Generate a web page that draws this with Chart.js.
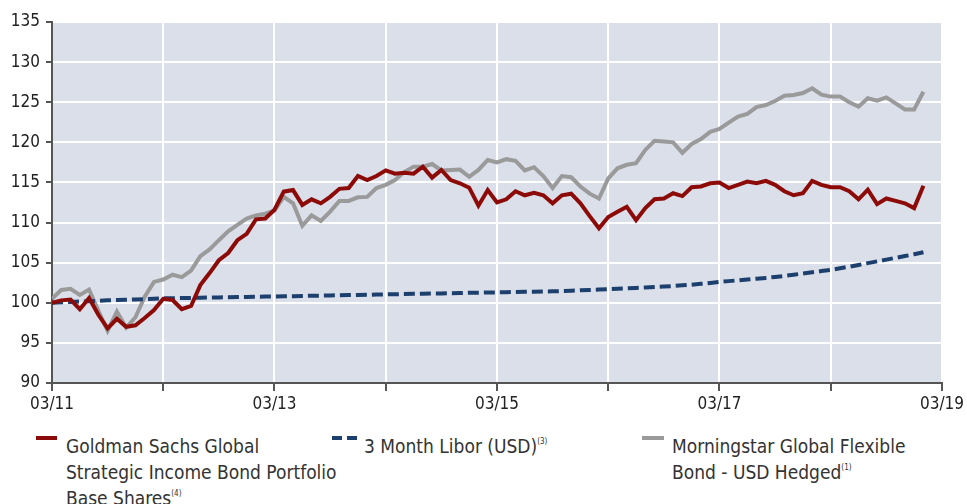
<!DOCTYPE html>
<html>
<head>
<meta charset="utf-8">
<script src="https://cdn.jsdelivr.net/npm/chart.js@4.4.1/dist/chart.umd.min.js"></script>
<style>
    body { margin: 0; background: #ffffff; font-family: 'Liberation Sans Narrow', 'DejaVu Sans Condensed', sans-serif; color: #333333; }
    #wrap { position: relative; width: 967px; height: 504px; overflow: hidden; }
    #box { position: absolute; left: 0; top: 0; width: 967px; height: 420px; }
    .item { position: absolute; top: 433px; font-size: 19px; line-height: 26px; }
    .sw { position: absolute; top: 3px; height: 4px; }
    sup { font-size: 8px; vertical-align: 9px; line-height: 0; }
</style>
</head>
<body>
<div id="wrap">
    <div id="box"><canvas id="chart"></canvas></div>
    <div class="item" style="left:36px;">
        <div class="sw" style="left:0; width:21px; background:#8c0b08;"></div>
        <div style="margin-left:30px;">Goldman Sachs Global<br>Strategic Income Bond Portfolio<br>Base Shares<sup>(4)</sup></div>
    </div>
    <div class="item" style="left:332px;">
        <div class="sw" style="left:0; width:10px; background:#1c3f6e;"></div>
        <div class="sw" style="left:15px; width:10px; background:#1c3f6e;"></div>
        <div style="margin-left:32px;">3 Month Libor (USD)<sup>(3)</sup></div>
    </div>
    <div class="item" style="left:642px;">
        <div class="sw" style="left:0; width:22px; background:#9a9a9a;"></div>
        <div style="margin-left:30px;">Morningstar Global Flexible<br>Bond - USD Hedged<sup>(1)</sup></div>
    </div>
</div>
<script>
// VARIABLE DECLARATIONS:
// one value per month, 03/11 .. 01/19
var yearLabels = ['03/11', '03/12', '03/13', '03/14', '03/15', '03/16', '03/17', '03/18', '03/19'];

var gsValues = [
    100.0, 100.3, 100.4, 99.2, 100.6, 98.5, 96.8, 98.0, 97.0, 97.2, 98.1, 99.1,
    100.5, 100.35, 99.2, 99.6, 102.2, 103.7, 105.3, 106.2, 107.8, 108.6, 110.4, 110.5,
    111.6, 113.85, 114.05, 112.2, 112.9, 112.4, 113.2, 114.2, 114.3, 115.8, 115.3, 115.8,
    116.5, 116.1, 116.2, 116.1, 116.96, 115.6, 116.56, 115.3, 114.9, 114.35, 112.1, 114.05,
    112.5, 112.9, 113.9, 113.4, 113.7, 113.4, 112.4, 113.4, 113.6, 112.4, 110.8, 109.3,
    110.7, 111.35, 111.97, 110.3, 111.8, 112.9, 113.0, 113.65, 113.3, 114.4, 114.5, 114.9,
    115.0, 114.3, 114.7, 115.1, 114.9, 115.2, 114.7, 113.9, 113.4, 113.65, 115.2, 114.7,
    114.4, 114.4, 113.9, 112.9, 114.1, 112.3, 113.0, 112.7, 112.4, 111.8, 114.6
];

var liborValues = [
    100.00, 100.05, 100.10, 100.15, 100.20, 100.25, 100.30, 100.34, 100.38, 100.42, 100.46, 100.50,
    100.55, 100.57, 100.59, 100.61, 100.63, 100.65, 100.67, 100.69, 100.71, 100.73, 100.75, 100.77,
    100.78, 100.80, 100.82, 100.85, 100.87, 100.89, 100.91, 100.94, 100.96, 100.98, 101.00, 101.03,
    101.05, 101.07, 101.09, 101.11, 101.13, 101.15, 101.17, 101.19, 101.21, 101.24, 101.26, 101.28,
    101.30, 101.32, 101.34, 101.36, 101.38, 101.40, 101.43, 101.46, 101.50, 101.55, 101.60, 101.65,
    101.70, 101.75, 101.80, 101.85, 101.90, 101.96, 102.02, 102.09, 102.17, 102.26, 102.36, 102.47,
    102.60, 102.70, 102.80, 102.90, 103.00, 103.10, 103.22, 103.35, 103.50, 103.65, 103.80, 103.95,
    104.10, 104.30, 104.50, 104.72, 104.94, 105.16, 105.38, 105.60, 105.82, 106.05, 106.30
];

var msValues = [
    100.5, 101.6, 101.75, 100.97, 101.65, 99.0, 96.5, 98.9, 96.9, 98.2, 100.76, 102.6,
    102.9, 103.5, 103.2, 104.0, 105.8, 106.65, 107.8, 108.9, 109.7, 110.5, 110.9, 111.1,
    111.5, 113.2, 112.4, 109.6, 110.9, 110.2, 111.36, 112.7, 112.7, 113.15, 113.2, 114.3,
    114.7, 115.3, 116.3, 116.97, 116.97, 117.3, 116.5, 116.56, 116.6, 115.7, 116.56, 117.8,
    117.5, 117.9, 117.7, 116.5, 116.9, 115.8, 114.3, 115.8, 115.65, 114.5, 113.6, 113.0,
    115.5, 116.76, 117.2, 117.4, 119.05, 120.2, 120.1, 120.0, 118.7, 119.8, 120.4, 121.3,
    121.67, 122.45, 123.2, 123.54, 124.4, 124.65, 125.15, 125.8, 125.9, 126.15, 126.74, 125.95,
    125.7, 125.7, 125.0, 124.45, 125.5, 125.2, 125.6, 124.86, 124.1, 124.1, 126.3
];

var fontFamily = "'Liberation Sans Narrow', 'DejaVu Sans Condensed', sans-serif";
var perfChart;

window.onload = function() {
    createChart();
};

function toPoints(values){
    return values.map((v, i) => ({ x: i, y: v }));
}

// fill the plot area behind the grid
var plotBackground = {
    id: 'plotBackground',
    beforeDraw(chart) {
        var ctx = chart.ctx;
        var a = chart.chartArea;
        ctx.save();
        ctx.fillStyle = '#dadfea';
        ctx.fillRect(a.left, a.top, a.right - a.left, a.bottom - a.top);
        ctx.restore();
    }
};

function createChart(){
    var chart = document.getElementById('chart').getContext('2d');
    perfChart = new Chart(chart, {
        type: 'line',
        data: {
            datasets: [{
                label: 'Goldman Sachs Global Strategic Income Bond Portfolio Base Shares',
                data: toPoints(gsValues),
                borderColor: '#8c0b08',
                borderWidth: 4,
                pointRadius: 0,
                tension: 0
            }, {
                label: '3 Month Libor (USD)',
                data: toPoints(liborValues),
                borderColor: '#1c3f6e',
                borderWidth: 4,
                borderDash: [11, 5],
                pointRadius: 0,
                tension: 0
            }, {
                label: 'Morningstar Global Flexible Bond - USD Hedged',
                data: toPoints(msValues),
                borderColor: '#9a9a9a',
                borderWidth: 4,
                pointRadius: 0,
                tension: 0
            }]
        },
        options: {
            responsive: true,
            maintainAspectRatio: false,
            animation: false,
            layout: {
                padding: { left: 0, right: 23, top: 22, bottom: 0 }
            },
            scales: {
                x: {
                    type: 'linear',
                    min: 0,
                    max: 96,
                    afterFit: (scale) => { scale.height = 37; },
                    border: { display: true, color: '#555555', width: 2 },
                    grid: {
                        color: '#ffffff',
                        lineWidth: 2,
                        tickColor: '#555555',
                        tickLength: 8
                    },
                    ticks: {
                        stepSize: 12,
                        autoSkip: false,
                        maxRotation: 0,
                        padding: 3,
                        color: '#222222',
                        font: { family: fontFamily, size: 17 },
                        callback: (value) => {
                            var n = value / 12;
                            return n % 2 === 0 ? yearLabels[n] : '';
                        }
                    }
                },
                y: {
                    min: 90,
                    max: 135,
                    afterFit: (scale) => { scale.width = 52; },
                    border: { display: true, color: '#555555', width: 2 },
                    grid: {
                        color: '#ffffff',
                        lineWidth: 2,
                        tickColor: '#555555',
                        tickLength: 6
                    },
                    ticks: {
                        stepSize: 5,
                        padding: 6,
                        color: '#222222',
                        font: { family: fontFamily, size: 17 }
                    }
                }
            },
            plugins: {
                legend: { display: false },
                tooltip: { enabled: false }
            }
        },
        plugins: [plotBackground]
    });
}
</script>
</body>
</html>
